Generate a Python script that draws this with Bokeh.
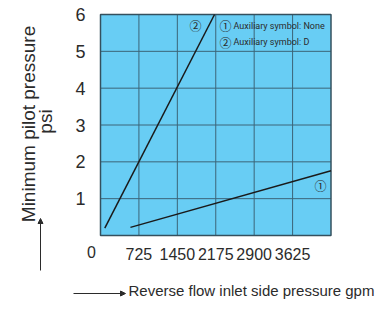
import math
from bokeh.plotting import figure
from bokeh.models import FixedTicker, Label, Arrow, NormalHead, Range1d
from bokeh.embed import file_html
from bokeh.resources import INLINE

# ---- data ----
x_ticks = [725, 1450, 2175, 2900, 3625]
y_ticks = [1, 2, 3, 4, 5, 6]
x_max = 4350
y_max = 6
line1_x = [565, 4350]          # (1) Auxiliary symbol: None
line1_y = [0.22, 1.76]
line2_x = [81, 2152]           # (2) Auxiliary symbol: D
line2_y = [0.20, 6.0]
legend_items = ["Auxiliary symbol: None", "Auxiliary symbol: D"]
legend_marks = ["\u2460", "\u2461"]

# ---- layout (pixels) ----
W, H = 378, 308
LEFT, RIGHT, TOP, BOTTOM = 100, 330.5, 14, 235
sx = x_max / (RIGHT - LEFT)
sy = y_max / (BOTTOM - TOP)
x_range = Range1d(-LEFT * sx, (W - LEFT) * sx)
y_range = Range1d(-(H - BOTTOM) * sy, y_max + TOP * sy)

p = figure(width=W, height=H, output_backend="svg", toolbar_location=None,
           title_location=None, x_range=x_range, y_range=y_range,
           min_border_left=0, min_border_right=0, min_border_top=0, min_border_bottom=0)
p.outline_line_color = None
p.background_fill_color = "white"
p.border_fill_color = "white"
p.xgrid.visible = False
p.ygrid.visible = False

GRID = "#3c6478"
TXT = "#2b2b2b"

# plot area
p.quad(left=[0], right=[x_max], bottom=[0], top=[y_max], fill_color="#68cdf4",
       line_color=None)
p.segment(x0=x_ticks, y0=[0] * len(x_ticks), x1=x_ticks, y1=[y_max] * len(x_ticks),
          line_color=GRID, line_width=1)
p.segment(x0=[0] * len(y_ticks), y0=y_ticks, x1=[x_max] * len(y_ticks), y1=y_ticks,
          line_color=GRID, line_width=1)
p.quad(left=[0], right=[x_max], bottom=[0], top=[y_max], fill_color=None,
       line_color="#34505e", line_width=1.5)

p.line(line1_x, line1_y, line_color="#1a1a1a", line_width=1.5)
p.line(line2_x, line2_y, line_color="#1a1a1a", line_width=1.5)

# axes placed at the plot-area edges
p.xaxis.fixed_location = 0
p.yaxis.fixed_location = 0
p.xaxis.ticker = FixedTicker(ticks=x_ticks)
p.yaxis.ticker = FixedTicker(ticks=y_ticks)
for ax in (p.xaxis[0], p.yaxis[0]):
    ax.axis_line_color = None
    ax.major_tick_line_color = None
    ax.minor_tick_line_color = None
    ax.major_label_text_font = "Liberation Sans"
    ax.major_label_text_color = TXT
p.xaxis.major_label_text_font_size = "16px"
p.yaxis.major_label_text_font_size = "18px"
p.xaxis.major_label_standoff = 6
p.yaxis.major_label_standoff = 9

font = "Liberation Sans"


def lab(x, y, text, size, fnt=font, angle=0, align="left", baseline="middle"):
    p.add_layout(Label(x=x, y=H - y, x_units="screen", y_units="screen", text=text,
                       text_font=fnt, text_font_size=size, text_color=TXT,
                       angle=angle, text_align=align, text_baseline=baseline))


lab(91, 251, "0", "16px", align="center")
# series markers
lab(195, 25, legend_marks[1], "12px", fnt="Noto Sans CJK JP", align="center")
lab(320, 185, legend_marks[0], "12px", fnt="Noto Sans CJK JP", align="center")
# legend
for i, (m, t) in enumerate(zip(legend_marks, legend_items)):
    lab(225, 25 + i * 16.5, m, "12px", fnt="Noto Sans CJK JP", align="center")
    lab(233, 25 + i * 16.5, t, "9px", fnt="Roboto")

# axis titles
lab(28, 123.5, "Minimum pilot pressure", "19px", angle=math.pi / 2, align="center")
lab(45, 121, "psi", "19px", angle=math.pi / 2, align="center")
lab(128, 290, "Reverse flow inlet side pressure gpm", "15px")

head = dict(size=5, fill_color=TXT, line_color=TXT)
p.add_layout(Arrow(x_start=40, y_start=H - 270, x_end=40, y_end=H - 218,
                   start_units="screen", end_units="screen",
                   line_color=TXT, line_width=1, end=NormalHead(**head)))
p.add_layout(Arrow(x_start=73, y_start=H - 293, x_end=125, y_end=H - 293,
                   start_units="screen", end_units="screen",
                   line_color=TXT, line_width=1, end=NormalHead(**head)))

open("out.html", "w").write(file_html(p, INLINE))
